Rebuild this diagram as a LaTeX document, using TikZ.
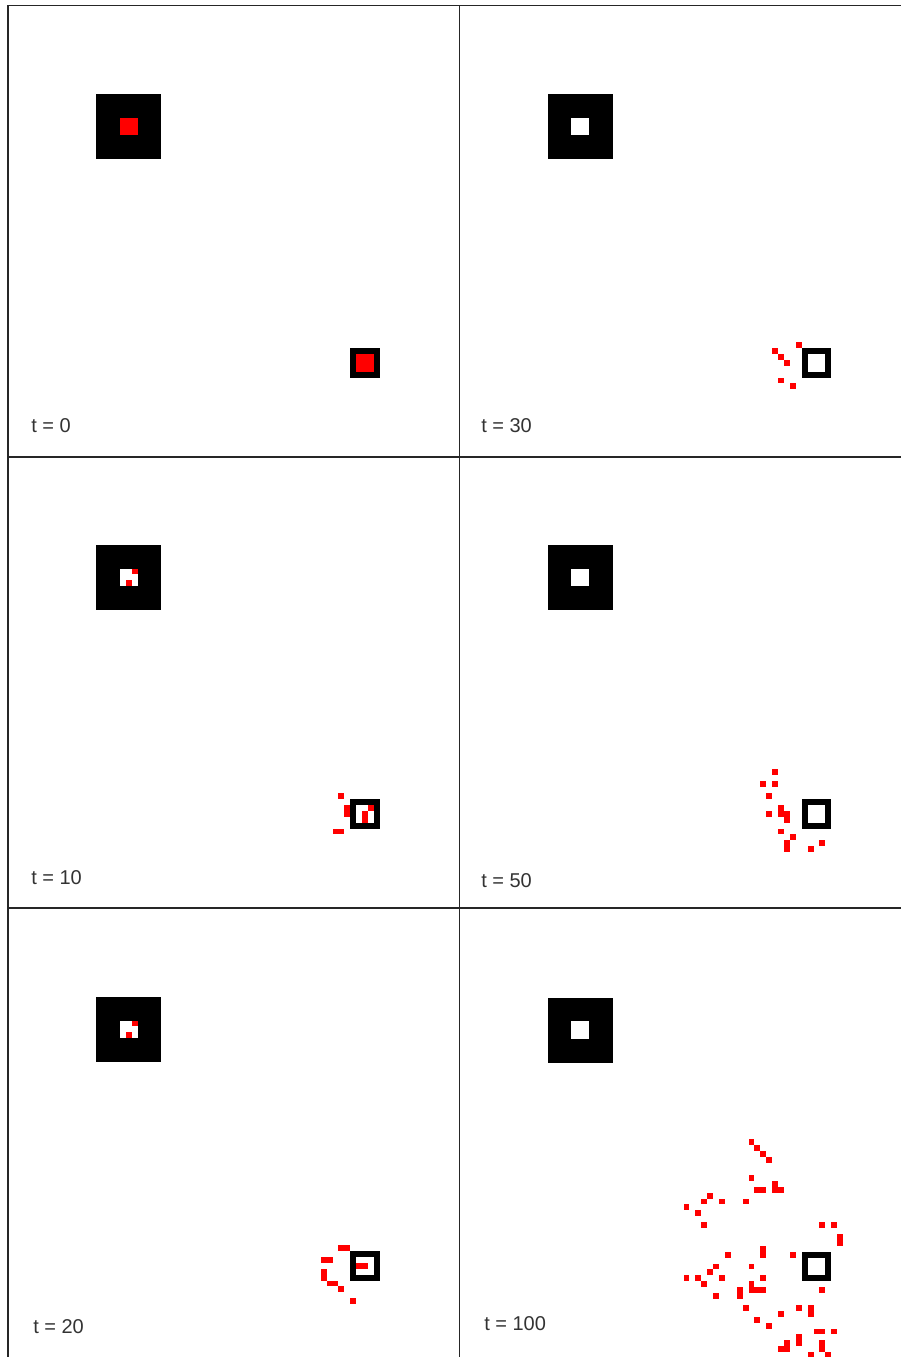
\documentclass[tikz,border=0pt]{standalone}
\usepackage{fontspec}
\setmainfont{Liberation Sans}
\newcommand{\cellw}{5.91}
\tikzset{
  frame/.style={draw=black!85,line width=1.1pt},
  stamp/.style={anchor=base west,inner sep=0pt,text=black!80,font=\fontsize{15}{18}\selectfont},
}
% red cells, column/row counted from the small square
\newcommand{\redcells}[1]{\foreach \i/\j in {#1} \fill[red] ({\i*\cellw},{\j*\cellw}) rectangle ++(\cellw,\cellw);}
% big square and small square of one panel, #1/#2 = colour inside
\newcommand{\squares}[2]{%
  \fill[black] ({-43*\cellw},{-43*\cellw}) rectangle ++({11*\cellw},{11*\cellw});
  \fill[#1] ({-39*\cellw},{-39*\cellw}) rectangle ++({3*\cellw},{3*\cellw});
  \fill[black] (0,0) rectangle ++({5*\cellw},{5*\cellw});
  \fill[#2] (\cellw,\cellw) rectangle ++({3*\cellw},{3*\cellw});}
\begin{document}
\begin{tikzpicture}[x=0.75pt,y=-0.75pt]
\useasboundingbox (0,0) rectangle (901,1357);
\clip (0,0) rectangle (901,1357);
\fill[white] (0,0) rectangle (901,1357);

% t = 0
\begin{scope}[shift={(350.3,348)}]
\squares{red}{red}
\end{scope}
% t = 30
\begin{scope}[shift={(801.7,348)}]
\squares{white}{white}
\redcells{-1/-1,-5/0,-4/1,-3/2,-4/5,-2/6}
\end{scope}
% t = 10
\begin{scope}[shift={(350.3,799)}]
\squares{white}{white}
\redcells{-37/-39,-38/-37,3/1,2/2,2/3,-2/-1,-1/1,-1/2,-3/5,-2/5}
\end{scope}
% t = 50
\begin{scope}[shift={(801.7,799)}]
\squares{white}{white}
\redcells{-5/-5,-7/-3,-5/-3,-6/-1,-6/2,-4/1,-4/2,-3/2,-3/3,-4/5,-2/6,-3/7,-3/8,1/8,3/7}
\end{scope}
% t = 20
\begin{scope}[shift={(350.3,1251)}]
\squares{white}{white}
\redcells{-37/-39,-38/-37,1/2,2/2,-2/-1,-1/-1,-5/1,-4/1,-5/3,-5/4,-4/5,-3/5,-2/6,0/8}
\end{scope}
% t = 100
\begin{scope}[shift={(801.7,1251.7)}]
\squares{white}{white}
\redcells{-9/-19,-8/-18,-7/-17,-6/-16,-9/-13,-8/-11,-7/-11,-5/-12,-5/-11,-4/-11,
  -10/-9,-14/-9,-16/-10,-17/-9,-20/-8,-18/-7,-17/-5,3/-5,5/-5,6/-3,6/-2,
  -7/-1,-7/0,-2/0,-13/0,-9/2,-15/2,-16/3,-20/4,-18/4,-14/4,-17/5,-7/4,
  -9/5,-9/6,-8/6,-7/6,-11/6,-11/7,-15/7,3/6,-10/9,-1/9,1/9,1/10,-4/10,
  -8/11,-6/12,2/13,3/13,5/13,-1/14,-1/15,-3/15,-3/16,-4/16,3/15,3/16,1/17,4/17}
\end{scope}

% grid
\draw[frame] (8,1357) -- (8,5.5) -- (901,5.5);
\draw[frame] (459.5,5.5) -- (459.5,1357);
\draw[frame] (8,457) -- (901,457);
\draw[frame] (8,908) -- (901,908);

\node[stamp] (t0) at (31,432) {t = 0};
\node[stamp] (t30) at (481,432) {t = 30};
\node[stamp] (t10) at (31,884) {t = 10};
\node[stamp] (t50) at (481,887) {t = 50};
\node[stamp] (t20) at (33,1333) {t = 20};
\node[stamp] (t100) at (484,1330) {t = 100};
\end{tikzpicture}
\end{document}
